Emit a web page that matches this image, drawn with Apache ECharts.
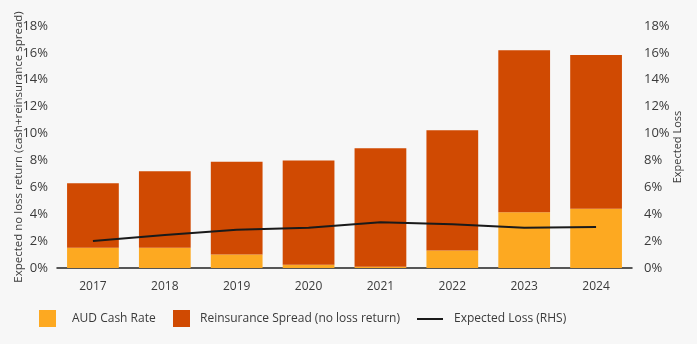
<!DOCTYPE html>
<html>
<head>
<meta charset="utf-8">
<script src="https://cdn.jsdelivr.net/npm/echarts@6/dist/echarts.min.js"></script>
<style>
html,body{margin:0;padding:0;background:#f7f7f7;}
#chart{width:697px;height:344px;}
</style>
</head>
<body>
<div id="chart"></div>
<script>
const years = ['2017','2018','2019','2020','2021','2022','2023','2024'];
const audCashRate = [1.5, 1.5, 1.0, 0.25, 0.1, 1.3, 4.15, 4.4];
const reinsuranceSpread = [4.8, 5.7, 6.9, 7.75, 8.8, 8.95, 12.05, 11.45];
const expectedLoss = [2.0, 2.45, 2.85, 3.0, 3.4, 3.25, 3.0, 3.05];

const FONT = '"Open Sans", "Noto Sans", sans-serif';
const TXT = '#3a3a3a';
const chart = echarts.init(document.getElementById('chart'), null, {renderer: 'canvas'});
const yAxisBase = {
  type: 'value', min: 0, max: 18, interval: 2,
  splitLine: {show: false}, axisLine: {show: false}, axisTick: {show: false},
  axisLabel: {formatter: v => v + '%', color: TXT, fontFamily: FONT, fontSize: 13},
  nameLocation: 'middle', nameRotate: 90, nameMoveOverlap: false
};
const legendBase = {
  top: 310, padding: 0, itemHeight: 17, itemWidth: 17,
  textStyle: {color: TXT, fontFamily: FONT, fontSize: 12}
};
chart.setOption({
  backgroundColor: '#f7f7f7',
  animation: false,
  grid: {left: 57, right: 65, top: 26, bottom: 76, outerBoundsMode: 'none', containLabel: false},
  legend: [
    Object.assign({}, legendBase, {left: 39,
      textStyle: Object.assign({}, legendBase.textStyle, {padding: [0, 0, 0, 11]}),
      data: [{name: 'AUD Cash Rate', icon: 'rect'}]}),
    Object.assign({}, legendBase, {left: 173,
      textStyle: Object.assign({}, legendBase.textStyle, {padding: [0, 0, 0, 5]}),
      data: [{name: 'Reinsurance Spread (no loss return)', icon: 'rect'}]}),
    Object.assign({}, legendBase, {left: 417, top: 313, itemWidth: 26, itemHeight: 2,
      textStyle: Object.assign({}, legendBase.textStyle, {padding: [0, 0, 0, 6]}),
      data: [{name: 'Expected Loss (RHS)', icon: 'rect', itemStyle: {color: '#1a1a1a'}}]})
  ],
  xAxis: {
    type: 'category', data: years,
    axisLine: {lineStyle: {color: '#222', width: 1.5}},
    axisTick: {show: false},
    axisLabel: {color: TXT, fontFamily: FONT, fontSize: 12, margin: 13}
  },
  yAxis: [
    Object.assign({}, yAxisBase, {
      name: 'Expected no loss return (cash+reinsurance spread)', nameGap: 32,
      nameTextStyle: {color: TXT, fontFamily: FONT, fontSize: 11.5},
      axisLabel: Object.assign({}, yAxisBase.axisLabel, {margin: 9})
    }),
    Object.assign({}, yAxisBase, {
      position: 'right', name: 'Expected Loss', nameGap: 40,
      nameTextStyle: {color: TXT, fontFamily: FONT, fontSize: 11},
      axisLabel: Object.assign({}, yAxisBase.axisLabel, {margin: 12})
    })
  ],
  series: [
    {name: 'AUD Cash Rate', type: 'bar', stack: 'total', data: audCashRate,
      barCategoryGap: '28%', itemStyle: {color: '#FDA921'}},
    {name: 'Reinsurance Spread (no loss return)', type: 'bar', stack: 'total', data: reinsuranceSpread,
      barCategoryGap: '28%', itemStyle: {color: '#D04A02'}},
    {name: 'Expected Loss (RHS)', type: 'line', yAxisIndex: 1, data: expectedLoss,
      symbol: 'none', lineStyle: {color: '#1a1a1a', width: 2}, itemStyle: {color: '#1a1a1a'}}
  ]
});
</script>
</body>
</html>
